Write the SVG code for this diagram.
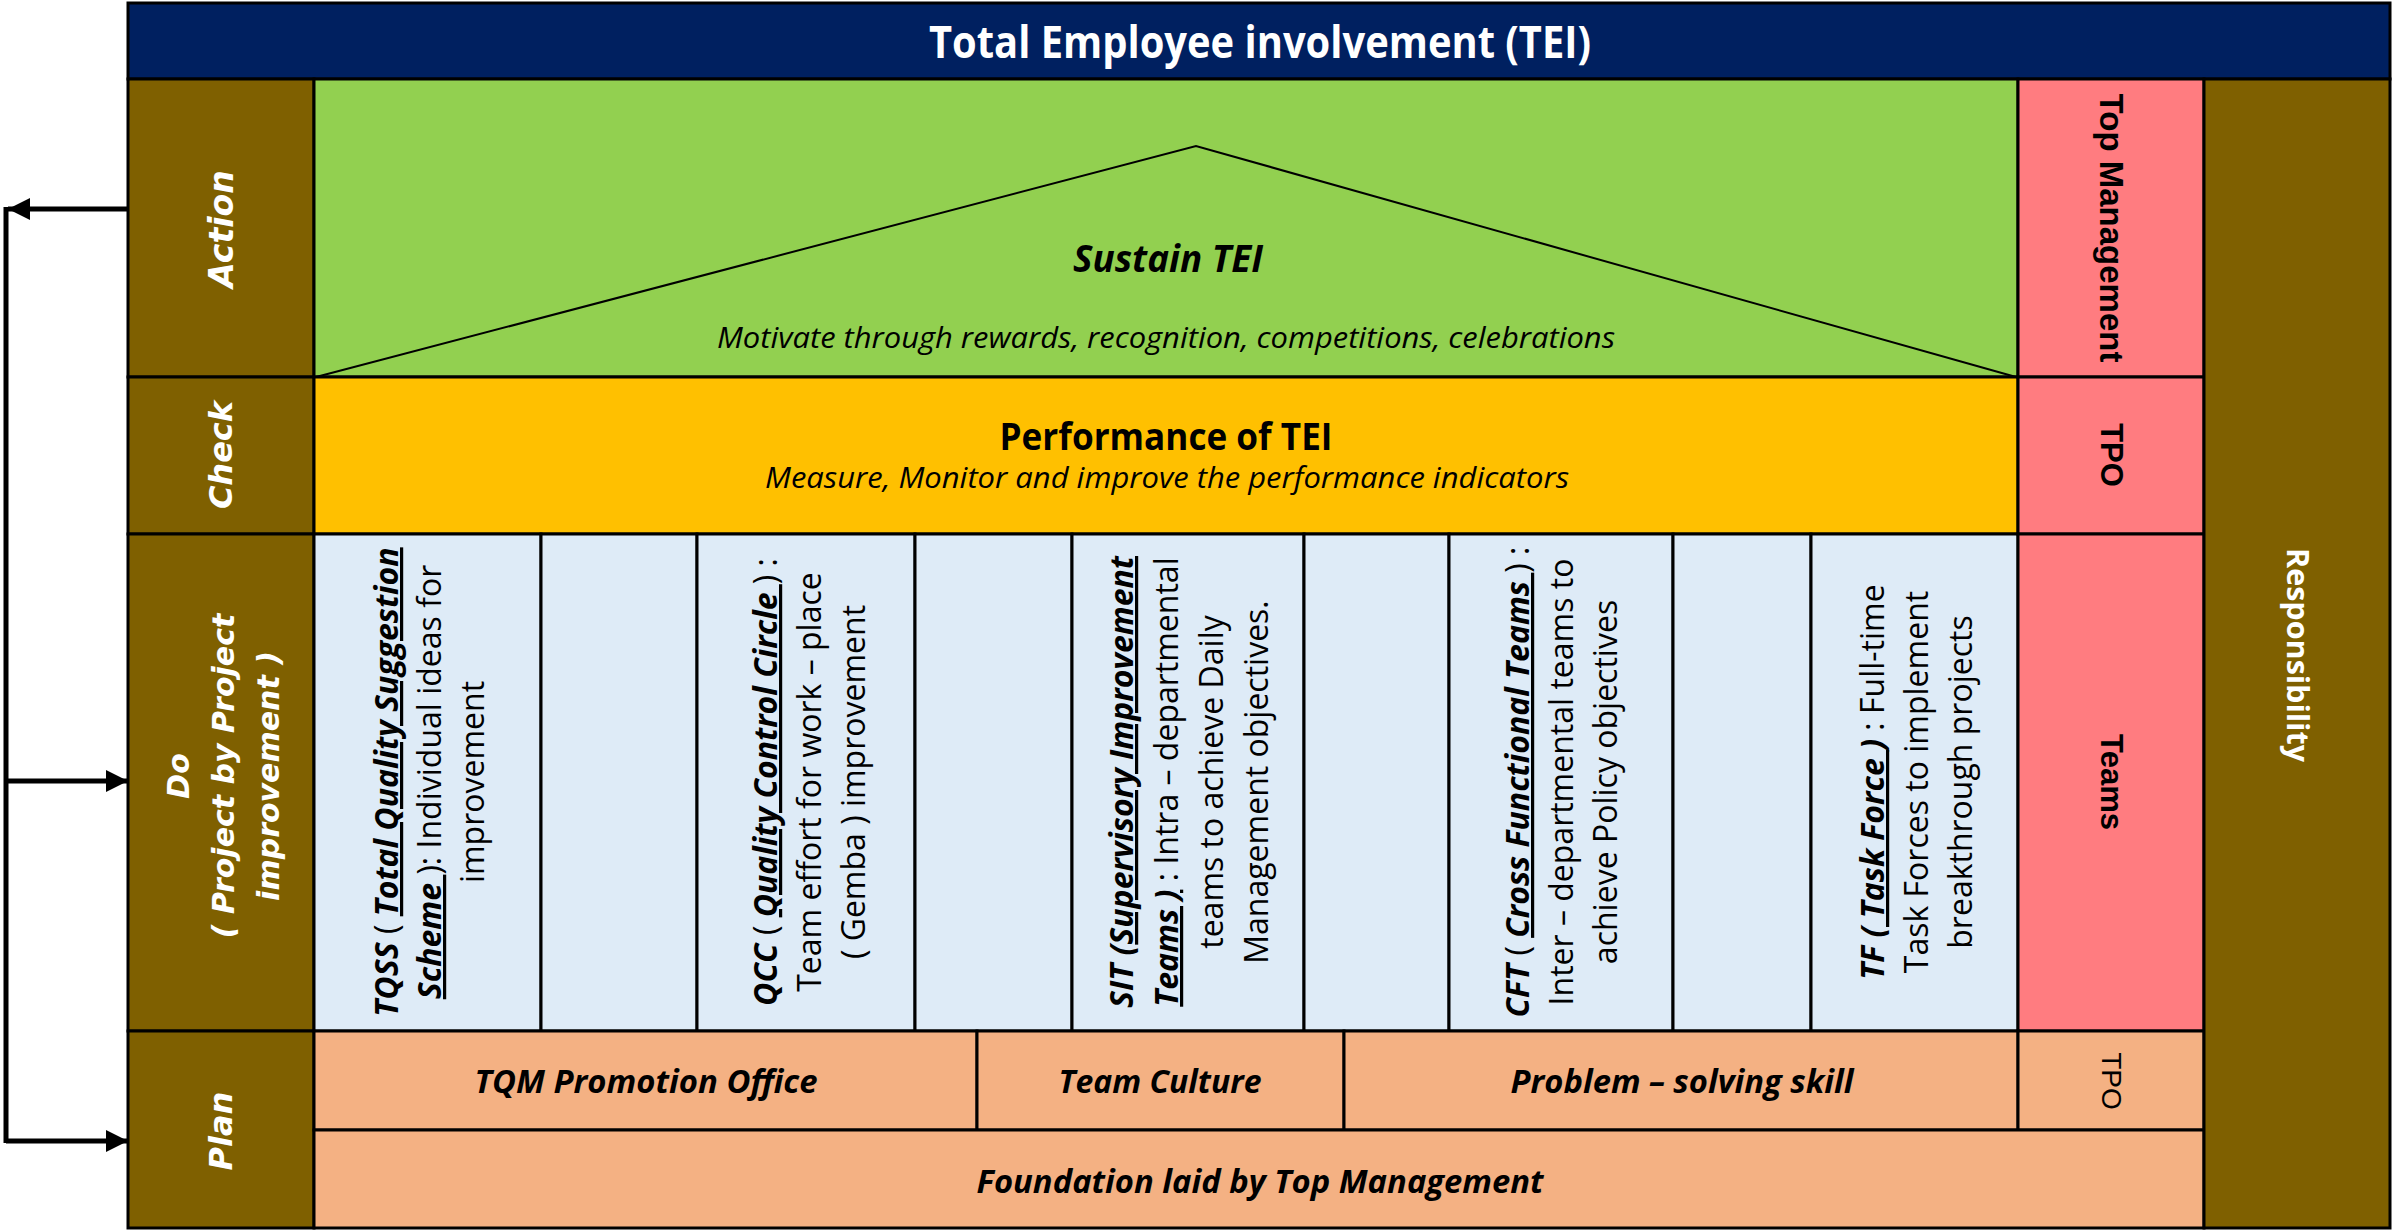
<svg xmlns="http://www.w3.org/2000/svg" width="2392" height="1231" viewBox="0 0 2392 1231">
<defs>
<style>
.cell{stroke:#000;stroke-width:3}
.brown{fill:#7F6000}
.navy{fill:#002060}
.green{fill:#92D050}
.gold{fill:#FFC000}
.pink{fill:#FF7C80}
.blue{fill:#DEEBF7}
.peach{fill:#F4B183}
.cal{font-family:"Open Sans","Noto Sans","DejaVu Sans",sans-serif;text-anchor:middle;fill:#000}
.lbl{font-family:"DejaVu Sans","Open Sans",sans-serif;font-weight:bold;font-style:italic;fill:#fff;text-anchor:middle}
.ar{font-family:"Liberation Sans",Arial,sans-serif;text-anchor:middle;fill:#000}
.do{font-family:"Open Sans","Noto Sans","DejaVu Sans",sans-serif;font-size:32px;text-anchor:middle;fill:#000}
.bi{font-weight:bold;font-style:italic}
.u{text-decoration:underline}
.conn{stroke:#000;stroke-width:5;fill:none}
</style>
<marker id="ah" markerUnits="userSpaceOnUse" markerWidth="24" markerHeight="24" refX="22" refY="12" orient="auto">
<path d="M0,1 L22,12 L0,23 z" fill="#000"/>
</marker>
</defs>
<rect width="2392" height="1231" fill="#fff"/>

<g id="title">
<rect class="cell navy" x="128" y="3" width="2262" height="76"/>
<text class="cal" x="1260" y="58" font-size="44" font-weight="bold" style="fill:#fff" textLength="662" lengthAdjust="spacingAndGlyphs">Total Employee involvement (TEI)</text>
</g>

<g id="label-action">
<rect class="cell brown" x="128" y="79" width="186" height="298"/>
<text class="lbl" font-size="33" transform="translate(221,229) rotate(-90)" x="0" y="12">Action</text>
</g>
<g id="label-check">
<rect class="cell brown" x="128" y="377" width="186" height="157"/>
<text class="lbl" font-size="32" transform="translate(221,455) rotate(-90)" x="0" y="11">Check</text>
</g>
<g id="label-do">
<rect class="cell brown" x="128" y="534" width="186" height="497"/>
<text class="lbl" font-size="30" transform="translate(224,776) rotate(-90)"><tspan x="0" y="-35">Do</tspan><tspan x="0" dy="45">( Project by Project</tspan><tspan x="0" dy="45">improvement )</tspan></text>
</g>
<g id="label-plan">
<rect class="cell brown" x="128" y="1031" width="186" height="197"/>
<text class="lbl" font-size="32" transform="translate(221,1131) rotate(-90)" x="0" y="11">Plan</text>
</g>

<g id="action">
<rect class="cell green" x="314" y="79" width="1704" height="298"/>
<polyline points="316,377 1196,146 2016,377" fill="none" stroke="#000" stroke-width="2"/>
<text class="cal" x="1168" y="272" font-size="38" font-weight="bold" font-style="italic" textLength="190" lengthAdjust="spacingAndGlyphs">Sustain TEI</text>
<text class="cal" x="1166" y="348" font-size="30" font-style="italic" textLength="898" lengthAdjust="spacingAndGlyphs">Motivate through rewards, recognition, competitions, celebrations</text>
</g>

<g id="check">
<rect class="cell gold" x="314" y="377" width="1704" height="157"/>
<text class="cal" x="1166" y="450" font-size="38" font-weight="bold" textLength="333" lengthAdjust="spacingAndGlyphs">Performance of TEI</text>
<text class="cal" x="1167" y="488" font-size="30" font-style="italic" textLength="804" lengthAdjust="spacingAndGlyphs">Measure, Monitor and improve the performance indicators</text>
</g>

<g id="do-tqss">
<rect class="cell blue" x="314" y="534" width="227" height="497"/>
<text class="do" transform="translate(430,782) rotate(-90)"><tspan x="0" y="-32"><tspan class="bi">TQSS</tspan> ( <tspan class="bi u">Total Quality Suggestion</tspan></tspan><tspan x="0" dy="43"><tspan class="bi u">Scheme </tspan>): Individual ideas for</tspan><tspan x="0" dy="43">improvement</tspan></text>
</g>
<g id="do-gap1"><rect class="cell blue" x="541" y="534" width="156" height="497"/></g>
<g id="do-qcc">
<rect class="cell blue" x="697" y="534" width="218" height="497"/>
<text class="do" transform="translate(810,782) rotate(-90)"><tspan x="0" y="-33"><tspan class="bi">QCC</tspan> ( <tspan class="bi u">Quality Control Circle </tspan>) :</tspan><tspan x="0" dy="44">Team effort for work – place</tspan><tspan x="0" dy="44">( Gemba ) improvement</tspan></text>
</g>
<g id="do-gap2"><rect class="cell blue" x="915" y="534" width="157" height="497"/></g>
<g id="do-sit">
<rect class="cell blue" x="1072" y="534" width="232" height="497"/>
<text class="do" transform="translate(1189,782) rotate(-90)"><tspan x="0" y="-56"><tspan class="bi">SIT (</tspan><tspan class="bi u">Supervisory Improvement</tspan></tspan><tspan x="0" dy="45"><tspan class="bi u">Teams )</tspan> : Intra – departmental</tspan><tspan x="0" dy="45">teams to achieve Daily</tspan><tspan x="0" dy="45">Management objectives.</tspan></text>
</g>
<g id="do-gap3"><rect class="cell blue" x="1304" y="534" width="145" height="497"/></g>
<g id="do-cft">
<rect class="cell blue" x="1449" y="534" width="224" height="497"/>
<text class="do" transform="translate(1562,782) rotate(-90)"><tspan x="0" y="-33"><tspan class="bi">CFT</tspan> ( <tspan class="bi u">Cross Functional Teams </tspan>) :</tspan><tspan x="0" dy="44">Inter – departmental teams to</tspan><tspan x="0" dy="44">achieve Policy objectives</tspan></text>
</g>
<g id="do-gap4"><rect class="cell blue" x="1673" y="534" width="138" height="497"/></g>
<g id="do-tf">
<rect class="cell blue" x="1811" y="534" width="207" height="497"/>
<text class="do" transform="translate(1916,782) rotate(-90)"><tspan x="0" y="-32"><tspan class="bi">TF</tspan> <tspan class="bi u">( Task Force </tspan><tspan class="bi">)</tspan> : Full-time</tspan><tspan x="0" dy="44">Task Forces to implement</tspan><tspan x="0" dy="44">breakthrough projects</tspan></text>
</g>

<g id="resp-top">
<rect class="cell pink" x="2018" y="79" width="186" height="298"/>
<text class="ar" font-size="33" font-weight="bold" transform="translate(2112,228) rotate(90)" x="0" y="12">Top Management</text>
</g>
<g id="resp-tpo">
<rect class="cell pink" x="2018" y="377" width="186" height="157"/>
<text class="ar" font-size="31" font-weight="bold" transform="translate(2112,455) rotate(90)" x="0" y="11">TPO</text>
</g>
<g id="resp-teams">
<rect class="cell pink" x="2018" y="534" width="186" height="497"/>
<text class="ar" font-size="31" font-weight="bold" transform="translate(2112,782) rotate(90)" x="0" y="11">Teams</text>
</g>

<g id="plan-tqm">
<rect class="cell peach" x="314" y="1031" width="663" height="99"/>
<text class="cal" x="646" y="1093" font-size="32" font-weight="bold" font-style="italic" textLength="343" lengthAdjust="spacingAndGlyphs">TQM Promotion Office</text>
</g>
<g id="plan-culture">
<rect class="cell peach" x="977" y="1031" width="367" height="99"/>
<text class="cal" x="1160" y="1093" font-size="32" font-weight="bold" font-style="italic" textLength="203" lengthAdjust="spacingAndGlyphs">Team Culture</text>
</g>
<g id="plan-skill">
<rect class="cell peach" x="1344" y="1031" width="674" height="99"/>
<text class="cal" x="1682" y="1093" font-size="32" font-weight="bold" font-style="italic" textLength="343" lengthAdjust="spacingAndGlyphs">Problem – solving skill</text>
</g>
<g id="plan-tpo">
<rect class="cell peach" x="2018" y="1031" width="186" height="99"/>
<text class="ar" font-size="28" transform="translate(2112,1081) rotate(90)" x="0" y="10">TPO</text>
</g>
<g id="foundation">
<rect class="cell peach" x="314" y="1130" width="1890" height="98"/>
<text class="cal" x="1260" y="1193" font-size="32" font-weight="bold" font-style="italic" textLength="567" lengthAdjust="spacingAndGlyphs">Foundation laid by Top Management</text>
</g>

<g id="responsibility">
<rect class="cell brown" x="2204" y="79" width="186" height="1149"/>
<text font-family="'Open Sans','Noto Sans',sans-serif" font-weight="bold" font-size="30" fill="#fff" text-anchor="middle" transform="translate(2298,655) rotate(90)" x="0" y="11" textLength="214" lengthAdjust="spacingAndGlyphs">Responsibility</text>
</g>

<g id="connectors">
<path class="conn" d="M6,207 V1143"/>
<path class="conn" d="M128,209 H8" marker-end="url(#ah)"/>
<path class="conn" d="M6,781 H128" marker-end="url(#ah)"/>
<path class="conn" d="M6,1141 H128" marker-end="url(#ah)"/>
</g>
</svg>
